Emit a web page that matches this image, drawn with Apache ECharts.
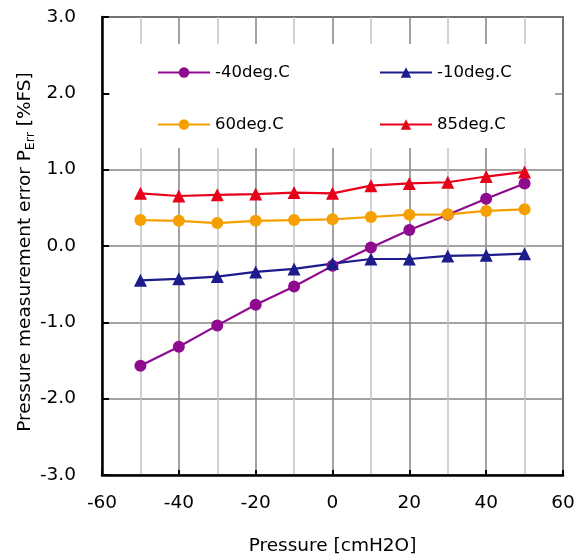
<!DOCTYPE html>
<html>
<head>
<meta charset="utf-8">
<script src="https://cdn.jsdelivr.net/npm/echarts@6/dist/echarts.min.js"></script>
<style>
html,body{margin:0;padding:0;background:#fff;}
#c{width:582px;height:558px;}
</style>
</head>
<body>
<div id="c"></div>
<script>
var pressure = [-50, -40, -30, -20, -10, 0, 10, 20, 30, 40, 50];
var seriesNames = ['-40deg.C', '-10deg.C', '60deg.C', '85deg.C'];
var valsM40 = [-1.57, -1.32, -1.04, -0.77, -0.53, -0.26, -0.02, 0.21, 0.41, 0.62, 0.82];
var valsM10 = [-0.45, -0.43, -0.40, -0.34, -0.30, -0.23, -0.17, -0.17, -0.13, -0.12, -0.10];
var valsP60 = [0.34, 0.33, 0.30, 0.33, 0.34, 0.35, 0.38, 0.41, 0.415, 0.46, 0.48];
var valsP85 = [0.69, 0.655, 0.67, 0.68, 0.70, 0.69, 0.79, 0.82, 0.835, 0.91, 0.97];

var FONT = 'DejaVu Sans';
function pairs(v) { return pressure.map(function (x, i) { return [x, v[i]]; }); }
function mk(name, vals, color, symbol) {
  return {
    name: name, type: 'line', data: pairs(vals),
    symbol: symbol, symbolSize: symbol === 'triangle' ? 13 : 12,
    lineStyle: { color: color, width: 2.2 },
    itemStyle: { color: color },
    emphasis: { disabled: true },
    z: 3
  };
}
var legendText = { fontFamily: FONT, fontSize: 16.5, color: '#000' };
var chart = echarts.init(document.getElementById('c'), null, { renderer: 'canvas' });
chart.setOption({
  animation: false,
  backgroundColor: '#fff',
  grid: { left: 102, right: 19, top: 17, bottom: 83, outerBoundsMode: 'none', containLabel: false,
    show: true, borderColor: '#000', borderWidth: 1.5, backgroundColor: 'transparent' },
  graphic: [{ type: 'rect', z: 1, shape: { x: 110, y: 44, width: 445, height: 104 }, style: { fill: '#fff' } }],
  legend: [
    { data: [seriesNames[0], seriesNames[2]], orient: 'vertical', left: 152, top: 59, itemWidth: 52, itemHeight: 13, itemGap: 35,
      textStyle: legendText, selectedMode: false },
    { data: [seriesNames[1], seriesNames[3]], orient: 'vertical', left: 374, top: 59, itemWidth: 52, itemHeight: 13, itemGap: 35,
      textStyle: legendText, selectedMode: false }
  ],
  xAxis: {
    type: 'value', min: -60, max: 60, interval: 20,
    name: 'Pressure [cmH2O]', nameLocation: 'middle', nameGap: 62, nameMoveOverlap: false,
    nameTextStyle: { fontFamily: FONT, fontSize: 18.5, color: '#000' },
    axisLine: { show: true, onZero: false, lineStyle: { color: '#000', width: 2.5 } },
    axisTick: { show: true, inside: true, length: 5, lineStyle: { color: '#000', width: 2 } },
    minorTick: { show: false, splitNumber: 2 },
    splitLine: { show: true, lineStyle: { color: '#858585', width: 1.5 } },
    minorSplitLine: { show: true, lineStyle: { color: '#c2c2c2', width: 1.5 } },
    axisLabel: { fontFamily: FONT, fontSize: 18.5, color: '#000', margin: 19 }
  },
  yAxis: {
    type: 'value', min: -3, max: 3, interval: 1,
    name: 'Pressure measurement error P{sub|Err} [%FS]', nameLocation: 'middle', nameRotate: 90, nameGap: 65, nameMoveOverlap: false,
    nameTextStyle: { fontFamily: FONT, fontSize: 18.5, color: '#000', padding: [0, 12, 0, 0],
      rich: { sub: { fontFamily: FONT, fontSize: 12.5, color: '#000', padding: [10, 0, 0, 0] } } },
    axisLine: { show: true, onZero: false, lineStyle: { color: '#000', width: 2.5 } },
    axisTick: { show: true, inside: true, length: 7, lineStyle: { color: '#000', width: 2 } },
    splitLine: { show: true, lineStyle: { color: '#858585', width: 1.5 } },
    axisLabel: { fontFamily: FONT, fontSize: 18.5, color: '#000', margin: 26, formatter: function (v) { return v.toFixed(1); } }
  },
  series: [
    mk(seriesNames[0], valsM40, '#8e0a8e', 'circle'),
    mk(seriesNames[1], valsM10, '#1c1c8c', 'triangle'),
    mk(seriesNames[2], valsP60, '#f5a000', 'circle'),
    mk(seriesNames[3], valsP85, '#e8001a', 'triangle')
  ]
});
</script>
</body>
</html>
